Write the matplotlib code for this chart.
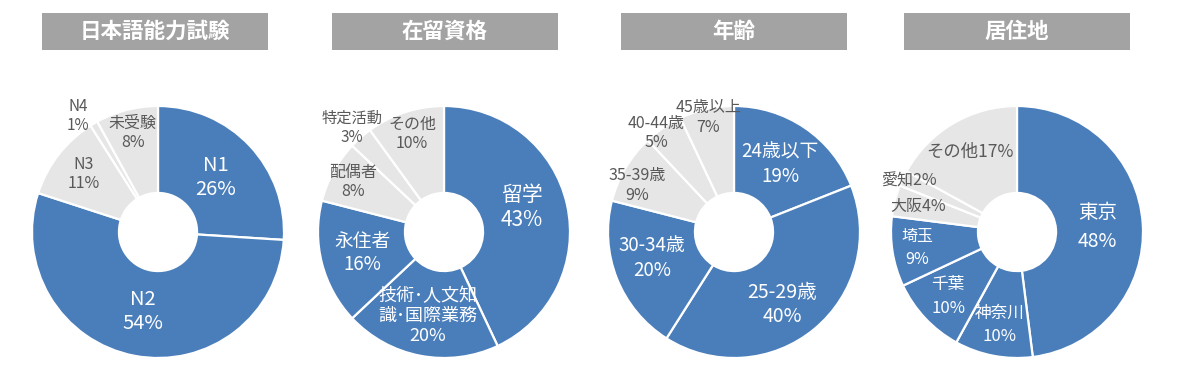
"""Donut charts: 日本語能力試験 / 在留資格 / 年齢 / 居住地."""

import matplotlib

matplotlib.use("Agg")
import matplotlib.pyplot as plt
import numpy as np
from matplotlib.patches import Rectangle

plt.rcParams["font.family"] = ["Noto Sans CJK JP", "DejaVu Sans"]

BLUE = "#4a7ebb"
GRAY = "#e6e6e6"
TITLE_BG = "#a3a3a3"
DARK = "#595959"

# --- data -------------------------------------------------------------
titles = ["日本語能力試験", "在留資格", "年齢", "居住地"]

jlpt_labels = ["N1", "N2", "N3", "N4", "未受験"]
jlpt_values = [26, 54, 11, 1, 8]

visa_labels = ["留学", "技術･人文知\n識･国際業務", "永住者", "配偶者", "特定活動", "その他"]
visa_values = [43, 20, 16, 8, 3, 10]

age_labels = ["24歳以下", "25-29歳", "30-34歳", "35-39歳", "40-44歳", "45歳以上"]
age_values = [19, 40, 20, 9, 5, 7]

area_labels = ["東京", "神奈川", "千葉", "埼玉", "大阪", "愛知", "その他"]
area_values = [48, 10, 10, 9, 4, 2, 17]

# number of leading slices drawn in blue
n_blue = [2, 3, 3, 4]

# --- label styling (radius as fraction of outer radius, angle tweak) --
label_radius = [
    [0.63, 0.64, 0.75, 1.12, 0.81],
    [0.65, 0.68, 0.67, 0.82, 1.10, 0.82],
    [0.65, 0.69, 0.68, 0.85, 1.00, 0.93],
    [0.64, 0.75, 0.75, 0.80, 0.81, 0.95, 0.74],
]
label_shift = [
    [0, 0, 0, 4, 0],
    [5, 0, 0, 0, 0, 0],
    [0, -6, -4, 5, 4, 0],
    [0, 0, 0, 0, 0, 0, 0],
]
label_size = [
    [14.5, 14.5, 11.5, 11, 11.5],
    [15, 13, 13.5, 11.5, 11, 11.5],
    [13.5, 14, 13.5, 11.5, 11.5, 11.5],
    [14, 12, 12, 11.5, 11.5, 11.5, 12.5],
]
label_spacing = [1.2, 1.15, 1.2, 1.5]
inline_names = {"大阪", "愛知"}

# centre x (px), centre y from top (px), outer radius (px)
centers = [158, 444, 734, 1017]
center_y = 232
radius_px = 126
title_centers = [155, 445, 734, 1017]


def draw_donut(ax, labels, values, blue_count, radii, shifts, sizes, spacing, chart_idx):
    colors = [BLUE if i < blue_count else GRAY for i in range(len(values))]
    ax.pie(
        values,
        colors=colors,
        startangle=90,
        counterclock=False,
        radius=1.0,
        wedgeprops=dict(width=0.69, edgecolor="white", linewidth=1.6),
    )
    total = float(sum(values))
    cum = np.cumsum([0] + list(values))
    for i, (name, val) in enumerate(zip(labels, values)):
        mid = 90 - (cum[i] + val / 2.0) / total * 360 + shifts[i]
        rad = np.deg2rad(mid)
        x = radii[i] * np.cos(rad)
        y = radii[i] * np.sin(rad)
        if name in inline_names or (chart_idx == 3 and name == "その他"):
            text = f"{name}{val}%"
        else:
            text = f"{name}\n{val}%"
        ax.text(
            x, y, text,
            ha="center", va="center",
            fontsize=sizes[i],
            color="white" if i < blue_count else DARK,
            linespacing=spacing,
        )
    lim = 1.2
    ax.set_xlim(-lim, lim)
    ax.set_ylim(-lim, lim)
    ax.set_aspect("equal")
    ax.axis("off")


W, H = 1200, 373
fig = plt.figure(figsize=(W / 100, H / 100), dpi=100)
fig.patch.set_facecolor("white")

all_labels = [jlpt_labels, visa_labels, age_labels, area_labels]
all_values = [jlpt_values, visa_values, age_values, area_values]

side = 2 * 1.2 * radius_px
for k in range(4):
    cx = centers[k]
    ax = fig.add_axes([
        (cx - side / 2) / W,
        (H - center_y - side / 2) / H,
        side / W,
        side / H,
    ])
    draw_donut(
        ax, all_labels[k], all_values[k], n_blue[k],
        label_radius[k], label_shift[k], label_size[k], label_spacing[k], k,
    )

    # title box
    bw, bh, top = 226, 37, 13
    tx = title_centers[k]
    fig.patches.append(Rectangle(
        ((tx - bw / 2) / W, (H - top - bh) / H), bw / W, bh / H,
        transform=fig.transFigure, facecolor=TITLE_BG, edgecolor="none",
    ))
    fig.text(
        tx / W, (H - top - bh / 2) / H, titles[k],
        ha="center", va="center", fontsize=15.5, fontweight="bold", color="white",
    )

fig.savefig("out.png", dpi=100)
